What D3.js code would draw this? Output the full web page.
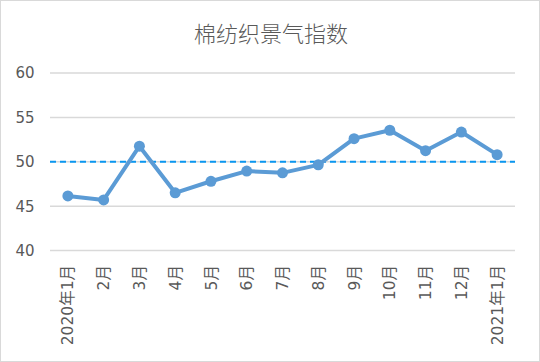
<!DOCTYPE html>
<html>
<head>
<meta charset="utf-8">
<script src="https://cdn.jsdelivr.net/npm/d3@7"></script>
<style>
  body { margin: 0; background: #fff; }
  text { font-family: "DejaVu Sans", "Noto Sans CJK SC", sans-serif; fill: #595959; }
  .title { font-family: "Noto Sans CJK SC", sans-serif; }
</style>
</head>
<body>
<div id="chart"></div>
<script>
// Données du graphique
const months = ["2020年1月", "2月", "3月", "4月", "5月", "6月", "7月", "8月", "9月", "10月", "11月", "12月", "2021年1月"];
const indexValues = [46.15, 45.7, 51.75, 46.5, 47.8, 48.95, 48.75, 49.65, 52.6, 53.55, 51.25, 53.35, 50.8];
const yTicks = [40, 45, 50, 55, 60];
const threshold = 50;

const width = 540, height = 362;
const svg = d3.select("#chart").append("svg")
    .attr("width", width)
    .attr("height", height);

// Cadre extérieur
svg.append("rect")
    .attr("x", 0.5).attr("y", 0.5)
    .attr("width", width - 1).attr("height", height - 1)
    .attr("fill", "#fff")
    .attr("stroke", "#d9d9d9");

// Titre
svg.append("text")
    .attr("class", "title")
    .attr("x", 271).attr("y", 42)
    .attr("text-anchor", "middle")
    .style("font-size", "22px")
    .style("font-weight", 300)
    .text("棉纺织景气指数");

const x = d3.scaleBand().domain(months).range([50, 515]);
const y = d3.scaleLinear().domain([40, 60]).range([250.5, 73]);

// Grille horizontale
svg.selectAll(".grid")
    .data(yTicks)
    .enter().append("line")
    .attr("class", "grid")
    .attr("x1", 50).attr("x2", 515)
    .attr("y1", d => y(d)).attr("y2", d => y(d))
    .attr("stroke", "#d9d9d9")
    .attr("stroke-width", 1.5);

// Étiquettes de l'axe Y
svg.selectAll(".ylab")
    .data(yTicks)
    .enter().append("text")
    .attr("class", "ylab")
    .attr("x", 34.5).attr("y", d => y(d))
    .attr("dy", "0.36em")
    .attr("text-anchor", "end")
    .style("font-size", "15px")
    .text(d => d);

// Ligne de seuil à 50
svg.append("line")
    .attr("x1", 50).attr("x2", 515)
    .attr("y1", y(threshold)).attr("y2", y(threshold))
    .attr("stroke", "#0a96f0")
    .attr("stroke-width", 2)
    .attr("stroke-dasharray", "6,4");

// Courbe
const line = d3.line()
    .x((d, i) => x(months[i]) + x.bandwidth() / 2)
    .y(d => y(d));

svg.append("path")
    .datum(indexValues)
    .attr("d", line)
    .attr("fill", "none")
    .attr("stroke", "#5b9bd5")
    .attr("stroke-width", 4)
    .attr("stroke-linejoin", "round");

svg.selectAll(".dot")
    .data(indexValues)
    .enter().append("circle")
    .attr("class", "dot")
    .attr("cx", (d, i) => x(months[i]) + x.bandwidth() / 2)
    .attr("cy", d => y(d))
    .attr("r", 5.5)
    .attr("fill", "#5b9bd5");

// Étiquettes de l'axe X (verticales)
svg.selectAll(".xlab")
    .data(months)
    .enter().append("text")
    .attr("class", "xlab")
    .attr("transform", d => `translate(${x(d) + x.bandwidth() / 2},265) rotate(-90)`)
    .attr("dy", "0.36em")
    .attr("text-anchor", "end")
    .style("font-size", "15.5px")
    .text(d => d);
</script>
</body>
</html>
